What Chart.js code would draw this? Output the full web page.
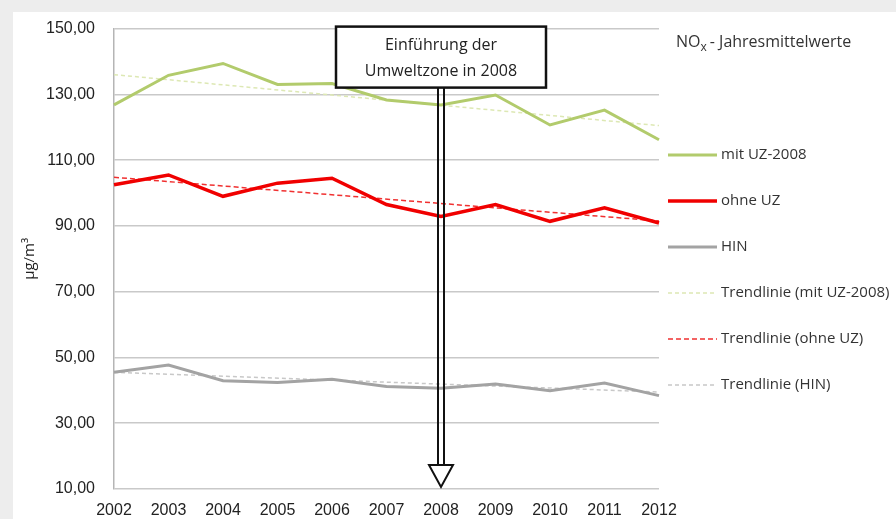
<!DOCTYPE html>
<html>
<head>
<meta charset="utf-8">
<script src="https://cdn.jsdelivr.net/npm/chart.js@4/dist/chart.umd.min.js"></script>
<style>
    html, body { margin: 0; padding: 0; background: #ededed; }
    #panel { position: absolute; left: 13px; top: 12px; width: 883px; height: 507px; background: #fff; }
    #wrap { position: absolute; left: 0; top: 0; width: 896px; height: 519px; }
</style>
</head>
<body>
<div id="panel"></div>
<div id="wrap"><canvas id="noxChart" width="896" height="519"></canvas></div>
<script>
const years = ['2002', '2003', '2004', '2005', '2006', '2007', '2008', '2009', '2010', '2011', '2012'];
const mitUZ = [126.8, 135.8, 139.4, 133.0, 133.3, 128.3, 126.8, 129.8, 120.7, 125.2, 116.2];
const ohneUZ = [102.5, 105.5, 99.0, 103.0, 104.5, 96.5, 92.9, 96.5, 91.4, 95.5, 90.9];
const hin = [45.5, 47.7, 42.9, 42.4, 43.4, 41.2, 40.6, 41.9, 39.9, 42.2, 38.4];
// trend lines: only the end points, drawn straight across
const trendMit = [136.0, null, null, null, null, null, null, null, null, null, 120.5];
const trendOhne = [104.8, null, null, null, null, null, null, null, null, null, 91.5];
const trendHin = [45.5, null, null, null, null, null, null, null, null, null, 39.5];
const yTicks = [10, 30, 50, 70, 90, 110, 130, 150];
const legendLabels = ['mit UZ-2008', 'ohne UZ', 'HIN', 'Trendlinie (mit UZ-2008)', 'Trendlinie (ohne UZ)', 'Trendlinie (HIN)'];
const markerYear = '2008';

const textFont = '"Open Sans", sans-serif';
const tickFont = 'Arial, "Liberation Sans", sans-serif';

// box + double-shaft arrow pointing at 2008, then the legend on the right
const extras = {
    id: 'extras',
    afterDraw(chart) {
        const ctx = chart.ctx;
        const area = chart.chartArea;
        const x = chart.scales.x.getPixelForValue(years.indexOf(markerYear));
        const yBottom = chart.scales.y.getPixelForValue(10);

        ctx.save();
        // arrow shaft
        const boxTop = area.top - 2, boxH = 61, boxW = 210;
        const headTop = yBottom - 24;
        ctx.strokeStyle = '#111';
        ctx.lineWidth = 2;
        ctx.beginPath();
        ctx.moveTo(x - 3, boxTop + boxH); ctx.lineTo(x - 3, headTop);
        ctx.moveTo(x + 3, boxTop + boxH); ctx.lineTo(x + 3, headTop);
        ctx.stroke();
        // hollow head
        ctx.fillStyle = '#fff';
        ctx.beginPath();
        ctx.moveTo(x - 12, headTop);
        ctx.lineTo(x + 12, headTop);
        ctx.lineTo(x, yBottom - 2);
        ctx.closePath();
        ctx.fill();
        ctx.stroke();

        // box
        ctx.fillStyle = '#fff';
        ctx.fillRect(x - boxW / 2, boxTop, boxW, boxH);
        ctx.lineWidth = 2.5;
        ctx.strokeRect(x - boxW / 2, boxTop, boxW, boxH);
        ctx.fillStyle = '#222';
        ctx.font = '16px ' + textFont;
        ctx.textAlign = 'center';
        ctx.textBaseline = 'middle';
        ctx.fillText('Einführung der', x, boxTop + 19);
        ctx.fillText('Umweltzone in 2008', x, boxTop + 45);

        // legend title
        ctx.textAlign = 'left';
        ctx.fillStyle = '#333';
        ctx.font = '16px ' + textFont;
        let tx = 676;
        ctx.fillText('NO', tx, 42);
        tx += ctx.measureText('NO').width;
        ctx.font = '12px ' + textFont;
        ctx.fillText('x', tx, 48);
        tx += ctx.measureText('x').width + 3;
        ctx.font = '16px ' + textFont;
        ctx.fillText('- Jahresmittelwerte', tx, 42);

        // legend entries
        ctx.font = '15px ' + textFont;
        chart.data.datasets.forEach((ds, i) => {
            const ly = 155 + i * 46;
            ctx.strokeStyle = ds.borderColor;
            ctx.lineWidth = ds.borderWidth;
            ctx.setLineDash(ds.borderDash || []);
            ctx.beginPath();
            ctx.moveTo(668, ly);
            ctx.lineTo(717, ly);
            ctx.stroke();
            ctx.setLineDash([]);
            ctx.fillStyle = '#333';
            ctx.fillText(legendLabels[i], 721, ly);
        });
        ctx.restore();
    }
};

const ctx = document.getElementById('noxChart').getContext('2d');
new Chart(ctx, {
    type: 'line',
    data: {
        labels: years,
        datasets: [
            { data: mitUZ, borderColor: '#b2cb6c', borderWidth: 3, pointRadius: 0, tension: 0 },
            { data: ohneUZ, borderColor: '#f00000', borderWidth: 3.5, pointRadius: 0, tension: 0 },
            { data: hin, borderColor: '#a3a3a3', borderWidth: 3, pointRadius: 0, tension: 0 },
            { data: trendMit, borderColor: '#dde8b4', borderWidth: 1.5, borderDash: [4, 3], pointRadius: 0, spanGaps: true },
            { data: trendOhne, borderColor: '#f03030', borderWidth: 1.5, borderDash: [5, 3], pointRadius: 0, spanGaps: true },
            { data: trendHin, borderColor: '#c8c8c8', borderWidth: 1.5, borderDash: [4, 3], pointRadius: 0, spanGaps: true }
        ]
    },
    options: {
        responsive: false,
        animation: false,
        layout: { padding: { left: 21, right: 237, top: 25, bottom: 0 } },
        scales: {
            x: {
                offset: false,
                grid: { display: false },
                border: { display: false },
                ticks: { color: '#222', font: { family: tickFont, size: 16 }, padding: 4, maxRotation: 0, autoSkip: false },
                afterFit: scale => { scale.height = 30; }
            },
            y: {
                min: 10,
                max: 150,
                afterBuildTicks: scale => { scale.ticks = yTicks.map(v => ({ value: v })); },
                grid: { color: '#c9c9c9', lineWidth: 1.5, drawTicks: false },
                border: { display: true, color: '#b5b5b5', width: 1.5 },
                ticks: {
                    color: '#222',
                    padding: 19,
                    font: { family: tickFont, size: 16 },
                    callback: v => v.toFixed(2).replace('.', ',')
                },
                title: { display: true, text: 'µg/m³', color: '#222', padding: 0, font: { family: textFont, size: 15 } },
                afterFit: scale => { scale.width = 93; }
            }
        },
        plugins: {
            legend: { display: false },
            tooltip: { enabled: false }
        }
    },
    plugins: [extras]
});
</script>
</body>
</html>
